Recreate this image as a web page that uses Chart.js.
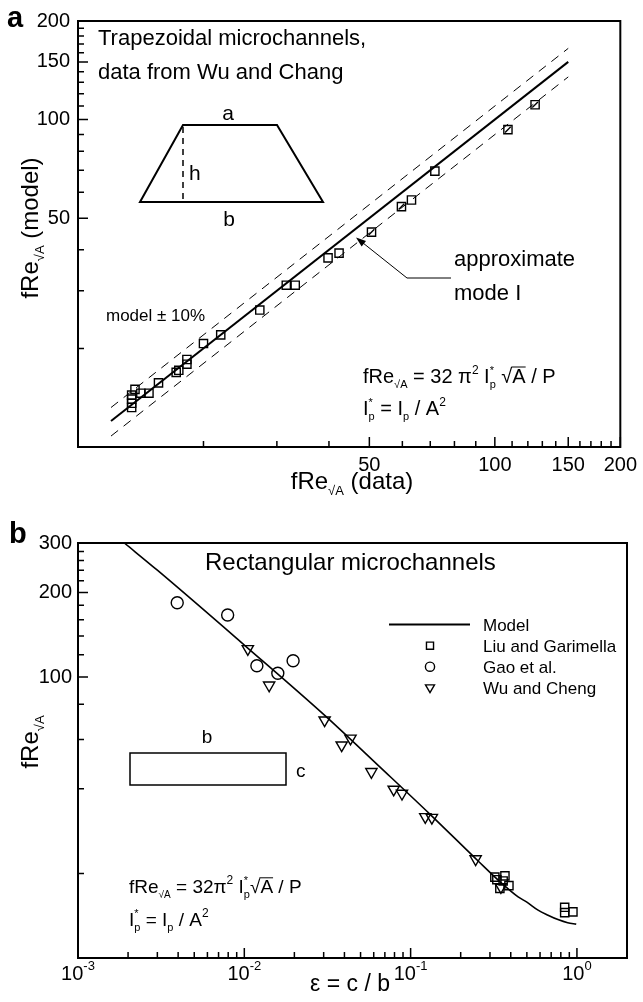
<!DOCTYPE html>
<html>
<head>
<meta charset="utf-8">
<script src="https://cdn.jsdelivr.net/npm/chart.js@4.4.1/dist/chart.umd.min.js"></script>
<style>
  html, body { margin: 0; padding: 0; background: #fff; }
  #wrap { position: relative; width: 643px; height: 1002px; }
  canvas { position: absolute; left: 0; }
  #chart-a { top: 0; }
  #chart-b { top: 500px; }
</style>
</head>
<body>
<div id="wrap">
  <canvas id="chart-a" width="643" height="500"></canvas>
  <canvas id="chart-b" width="643" height="502"></canvas>
</div>
<script>
const FONT = '"Liberation Sans", Arial, Helvetica, sans-serif';

// panel a: trapezoidal microchannels, fRe (data) vs fRe (model)
const aDataX = [13.45, 13.45, 13.45, 13.45, 13.7, 14.15, 14.8, 15.6, 17.2, 17.45, 18.25, 18.25, 20.0, 22.0, 27.3, 31.6, 33.2, 39.8, 42.3, 50.6, 59.7, 63.1, 71.8, 107.5, 124.9];
const aDataY = [14.4, 14.0, 13.6, 13.2, 15.0, 14.6, 14.6, 15.7, 16.9, 17.15, 18.5, 17.9, 20.7, 22.0, 26.2, 31.2, 31.2, 37.8, 39.1, 45.3, 54.2, 56.8, 69.6, 93.2, 111.0];
const aModeX = [50.6, 59.7, 107.5, 124.9];
const aModeY = [45.3, 54.2, 93.2, 111.0];
const aModelX = [12, 150];
const aModelY = [12, 150];
const aUpperY = [13.2, 165];
const aLowerY = [10.8, 135];
const aTicks = [50, 100, 150, 200];
const aMinor = [20, 30, 40, 60, 70, 80, 90, 110, 120, 130, 140, 160, 170, 180, 190];

// panel b: rectangular microchannels, fRe vs aspect ratio
const bModelX = [0.0019, 0.003, 0.01, 0.0308, 0.065, 0.13, 0.2555, 0.344, 0.443, 0.5, 0.584, 0.67, 0.769, 0.88, 0.99];
const bModelY = [300, 240, 130, 72.6, 48, 32.6, 22.1, 18.7, 16.5, 15.8, 14.8, 14.2, 13.7, 13.35, 13.2];
const bLiuX = [0.321, 0.33, 0.344, 0.36, 0.369, 0.39, 0.844, 0.844, 0.946];
const bLiuY = [19.4, 19.0, 17.7, 18.8, 19.6, 18.1, 15.15, 14.5, 14.6];
const bGaoX = [0.00395, 0.00794, 0.0119, 0.0159, 0.01965];
const bGaoY = [183.8, 166.2, 109.7, 103.1, 114.3];
const bWuX = [0.0105, 0.0141, 0.0304, 0.0385, 0.0435, 0.0581, 0.0791, 0.0887, 0.1225, 0.1342, 0.246, 0.349];
const bWuY = [126, 93.5, 70.2, 57.2, 60.5, 46, 39.8, 38.5, 31.8, 31.6, 22.5, 17.9];
const bXTicks = [0.001, 0.01, 0.1, 1];
const bXExp = ['-3', '-2', '-1', '0'];
const bXMinor = [0.002, 0.003, 0.004, 0.005, 0.006, 0.007, 0.008, 0.009,
  0.02, 0.03, 0.04, 0.05, 0.06, 0.07, 0.08, 0.09,
  0.2, 0.3, 0.4, 0.5, 0.6, 0.7, 0.8, 0.9];
const bYTicks = [100, 200, 300];
const bYMinor = [20, 40, 60, 80, 120, 140, 160, 180, 220, 240, 260, 280];
const bLegend = ['Model', 'Liu and Garimella', 'Gao et al.', 'Wu and Cheng'];

Chart.defaults.font.family = FONT;
Chart.defaults.color = '#000';

function font(size, bold) {
  return (bold ? 'bold ' : '') + size + 'px ' + FONT;
}

function pts(xs, ys) {
  return xs.map((x, i) => ({ x, y: ys[i] }));
}

function lineSet(xs, ys, width, dash, smooth) {
  return {
    data: pts(xs, ys),
    showLine: true,
    pointRadius: 0,
    borderColor: '#000',
    borderWidth: width,
    borderDash: dash,
    cubicInterpolationMode: smooth ? 'monotone' : 'default',
  };
}

function markerSet(xs, ys, style, radius, rotation) {
  return {
    data: pts(xs, ys),
    pointStyle: style,
    pointRadius: radius,
    pointRotation: rotation || 0,
    borderColor: '#000',
    backgroundColor: 'rgba(0,0,0,0)',
    pointBorderWidth: 1.4,
    borderWidth: 1.4,
  };
}

// text with sub/superscripts: runs of {t, s, dy, stay, bar}
function richWidth(ctx, runs) {
  let w = 0;
  runs.forEach((r) => {
    ctx.font = font(r.s);
    if (!r.stay) w += ctx.measureText(r.t).width;
  });
  return w;
}

function drawRich(ctx, x, y, runs, align) {
  if (align === 'center') x -= richWidth(ctx, runs) / 2;
  ctx.textAlign = 'left';
  ctx.textBaseline = 'alphabetic';
  ctx.fillStyle = '#000';
  runs.forEach((r) => {
    ctx.font = font(r.s);
    const w = ctx.measureText(r.t).width;
    ctx.fillText(r.t, x, y + (r.dy || 0));
    if (r.bar) {
      ctx.beginPath();
      ctx.lineWidth = 1;
      ctx.strokeStyle = '#000';
      ctx.moveTo(x - 1, y - r.s * 0.8);
      ctx.lineTo(x + w, y - r.s * 0.8);
      ctx.stroke();
    }
    if (!r.stay) x += w;
  });
}

function text(ctx, str, x, y, size, align, bold) {
  ctx.font = font(size, bold);
  ctx.textAlign = align || 'left';
  ctx.textBaseline = 'alphabetic';
  ctx.fillStyle = '#000';
  ctx.fillText(str, x, y);
}

function drawFrame(chart, xMajor, xMinor, yMajor, yMinor) {
  const { ctx, chartArea: a, scales: { x, y } } = chart;
  ctx.save();
  ctx.strokeStyle = '#000';
  ctx.lineWidth = 1.5;
  ctx.beginPath();
  xMajor.forEach((v) => { const p = x.getPixelForValue(v); ctx.moveTo(p, a.bottom); ctx.lineTo(p, a.bottom - 10); });
  xMinor.forEach((v) => { const p = x.getPixelForValue(v); ctx.moveTo(p, a.bottom); ctx.lineTo(p, a.bottom - 6); });
  yMajor.forEach((v) => { const p = y.getPixelForValue(v); ctx.moveTo(a.left, p); ctx.lineTo(a.left + 10, p); });
  yMinor.forEach((v) => { const p = y.getPixelForValue(v); ctx.moveTo(a.left, p); ctx.lineTo(a.left + 6, p); });
  ctx.stroke();
  ctx.lineWidth = 2;
  ctx.strokeRect(a.left, a.top, a.right - a.left, a.bottom - a.top);
  ctx.restore();
}

function drawMarker(ctx, style, x, y, r) {
  ctx.beginPath();
  if (style === 'rect') {
    const s = r * Math.SQRT1_2;
    ctx.rect(x - s, y - s, 2 * s, 2 * s);
  } else if (style === 'circle') {
    ctx.arc(x, y, r, 0, Math.PI * 2);
  } else {
    ctx.moveTo(x, y + r);
    ctx.lineTo(x - r * 0.866, y - r / 2);
    ctx.lineTo(x + r * 0.866, y - r / 2);
    ctx.closePath();
  }
  ctx.stroke();
}

const fReSub = (s, sub, dy) => [{ t: 'fRe', s }, { t: '\u221AA', s: sub, dy }];

const panelA = {
  id: 'panelA',
  afterDraw(chart) {
    const { ctx } = chart;
    drawFrame(chart, aTicks, aMinor, aTicks, aMinor);
    ctx.save();
    text(ctx, 'a', 7, 27, 29, 'left', true);
    text(ctx, 'Trapezoidal microchannels,', 98, 45, 22);
    text(ctx, 'data from Wu and Chang', 98, 79, 22);

    // trapezoid sketch
    ctx.strokeStyle = '#000';
    ctx.lineWidth = 2;
    ctx.beginPath();
    ctx.moveTo(140, 202); ctx.lineTo(183, 125); ctx.lineTo(277, 125); ctx.lineTo(323, 202); ctx.closePath();
    ctx.stroke();
    ctx.lineWidth = 1.5;
    ctx.setLineDash([6, 5]);
    ctx.beginPath();
    ctx.moveTo(183, 127); ctx.lineTo(183, 200);
    ctx.stroke();
    ctx.setLineDash([]);
    text(ctx, 'a', 228, 120, 21, 'center');
    text(ctx, 'h', 189, 180, 21);
    text(ctx, 'b', 229, 226, 21, 'center');

    text(ctx, 'model \u00B1 10%', 106, 321, 17);

    // approximate mode I callout
    ctx.lineWidth = 1;
    ctx.beginPath();
    ctx.moveTo(358, 239); ctx.lineTo(407, 278); ctx.lineTo(451, 278);
    ctx.stroke();
    const ang = Math.atan2(239 - 278, 358 - 407);
    ctx.beginPath();
    ctx.moveTo(356, 237.5);
    ctx.lineTo(356 - 10 * Math.cos(ang) + 3.5 * Math.sin(ang), 237.5 - 10 * Math.sin(ang) - 3.5 * Math.cos(ang));
    ctx.lineTo(356 - 10 * Math.cos(ang) - 3.5 * Math.sin(ang), 237.5 - 10 * Math.sin(ang) + 3.5 * Math.cos(ang));
    ctx.closePath();
    ctx.fillStyle = '#000';
    ctx.fill();
    text(ctx, 'approximate', 454, 266, 22);
    text(ctx, 'mode I', 454, 300, 22);

    drawRich(ctx, 363, 383, [
      { t: 'fRe', s: 20 }, { t: '\u221AA', s: 11, dy: 5 }, { t: ' = 32 \u03C0', s: 20 }, { t: '2', s: 12, dy: -9 },
      { t: ' I', s: 20 }, { t: '*', s: 11, dy: -9, stay: true }, { t: 'p', s: 11, dy: 5 }, { t: ' \u221A', s: 20 },
      { t: 'A', s: 20, bar: true }, { t: ' / P', s: 20 },
    ]);
    drawRich(ctx, 363, 415, [
      { t: 'I', s: 20 }, { t: '*', s: 11, dy: -9, stay: true }, { t: 'p', s: 11, dy: 5 }, { t: ' = I', s: 20 },
      { t: 'p', s: 11, dy: 5 }, { t: ' / A', s: 20 }, { t: '2', s: 12, dy: -9 },
    ]);

    // axis titles
    drawRich(ctx, 352, 489, [...fReSub(24, 13, 6), { t: ' (data)', s: 24 }], 'center');
    ctx.translate(38, 228);
    ctx.rotate(-Math.PI / 2);
    drawRich(ctx, 0, 0, [...fReSub(24, 13, 6), { t: ' (model)', s: 24 }], 'center');
    ctx.restore();
  },
};

const panelB = {
  id: 'panelB',
  afterDraw(chart) {
    const { ctx, chartArea: a, scales: { x } } = chart;
    drawFrame(chart, bXTicks, bXMinor, bYTicks, bYMinor);
    ctx.save();
    // decade labels 10^n
    bXTicks.forEach((v, i) => {
      const p = x.getPixelForValue(v);
      ctx.font = font(20);
      const w1 = ctx.measureText('10').width;
      ctx.font = font(13);
      const w2 = ctx.measureText(bXExp[i]).width;
      const left = p - (w1 + w2) / 2;
      text(ctx, '10', left, a.bottom + 22, 20);
      text(ctx, bXExp[i], left + w1, a.bottom + 12, 13);
    });
    text(ctx, 'b', 9, 43, 29, 'left', true);
    text(ctx, 'Rectangular microchannels', 205, 70, 24);

    // legend
    ctx.strokeStyle = '#000';
    ctx.lineWidth = 2;
    ctx.beginPath();
    ctx.moveTo(389, 124.5); ctx.lineTo(470, 124.5);
    ctx.stroke();
    ctx.lineWidth = 1.4;
    drawMarker(ctx, 'rect', 430, 145.7, 5);
    drawMarker(ctx, 'circle', 430, 166.7, 4.6);
    drawMarker(ctx, 'tri', 430, 187.5, 5.2);
    bLegend.forEach((t, i) => text(ctx, t, 483, 131 + i * 21, 17));

    // rectangle sketch
    ctx.lineWidth = 1.5;
    ctx.strokeRect(130, 253, 156, 32);
    text(ctx, 'b', 207, 243, 19, 'center');
    text(ctx, 'c', 296, 277, 19);

    drawRich(ctx, 129, 393, [
      { t: 'fRe', s: 19 }, { t: '\u221AA', s: 10, dy: 5 }, { t: ' = 32', s: 19 }, { t: '\u03C0', s: 19 }, { t: '2', s: 12, dy: -9 },
      { t: ' I', s: 19 }, { t: '*', s: 11, dy: -9, stay: true }, { t: 'p', s: 11, dy: 5 }, { t: '\u221A', s: 19 },
      { t: 'A', s: 19, bar: true }, { t: ' / P', s: 19 },
    ]);
    drawRich(ctx, 129, 426, [
      { t: 'I', s: 19 }, { t: '*', s: 11, dy: -9, stay: true }, { t: 'p', s: 11, dy: 5 }, { t: ' = I', s: 19 },
      { t: 'p', s: 11, dy: 5 }, { t: ' / A', s: 19 }, { t: '2', s: 12, dy: -9 },
    ]);

    text(ctx, '\u03B5 = c / b', 350, 491, 23, 'center');
    ctx.translate(38, 242);
    ctx.rotate(-Math.PI / 2);
    drawRich(ctx, 0, 0, fReSub(24, 13, 6), 'center');
    ctx.restore();
  },
};

function logAxis(min, max, ticks, size, pad, showLabels, sizeKey) {
  return {
    type: 'logarithmic',
    min,
    max,
    afterFit: (s) => { s[sizeKey] = size; },
    afterBuildTicks: (s) => { s.ticks = ticks.map((v) => ({ value: v })); },
    grid: { display: false, drawTicks: false },
    border: { display: false },
    ticks: {
      display: showLabels,
      autoSkip: false,
      maxRotation: 0,
      padding: pad,
      color: '#000',
      font: { size: 20 },
      callback: (v) => String(v),
    },
  };
}

const baseOptions = {
  responsive: false,
  animation: false,
  events: [],
  plugins: { legend: { display: false }, tooltip: { enabled: false } },
};

new Chart(document.getElementById('chart-a'), {
  type: 'scatter',
  data: {
    datasets: [
      markerSet(aDataX, aDataY, 'rect', 5.8),
      markerSet(aModeX, aModeY, 'line', 4, -45),
      lineSet(aModelX, aModelY, 2, []),
      lineSet(aModelX, aUpperY, 1, [9, 7]),
      lineSet(aModelX, aLowerY, 1, [9, 7]),
    ],
  },
  options: {
    ...baseOptions,
    layout: { padding: { left: 0, top: 21, right: 17, bottom: 0 } },
    scales: {
      x: logAxis(10, 200, aTicks, 53, 6, true, 'height'),
      y: logAxis(10, 200, aTicks, 78, 8, true, 'width'),
    },
  },
  plugins: [panelA],
});

new Chart(document.getElementById('chart-b'), {
  type: 'scatter',
  data: {
    datasets: [
      markerSet(bLiuX, bLiuY, 'rect', 5.8),
      markerSet(bGaoX, bGaoY, 'circle', 6),
      markerSet(bWuX, bWuY, 'triangle', 6.5, 180),
      lineSet(bModelX, bModelY, 1.6, [], true),
    ],
  },
  options: {
    ...baseOptions,
    layout: { padding: { left: 0, top: 43, right: 16, bottom: 0 } },
    scales: {
      x: logAxis(0.001, 2, bXTicks, 44, 6, false, 'height'),
      y: logAxis(10, 300, bYTicks, 78, 6, true, 'width'),
    },
  },
  plugins: [panelB],
});
</script>
</body>
</html>
